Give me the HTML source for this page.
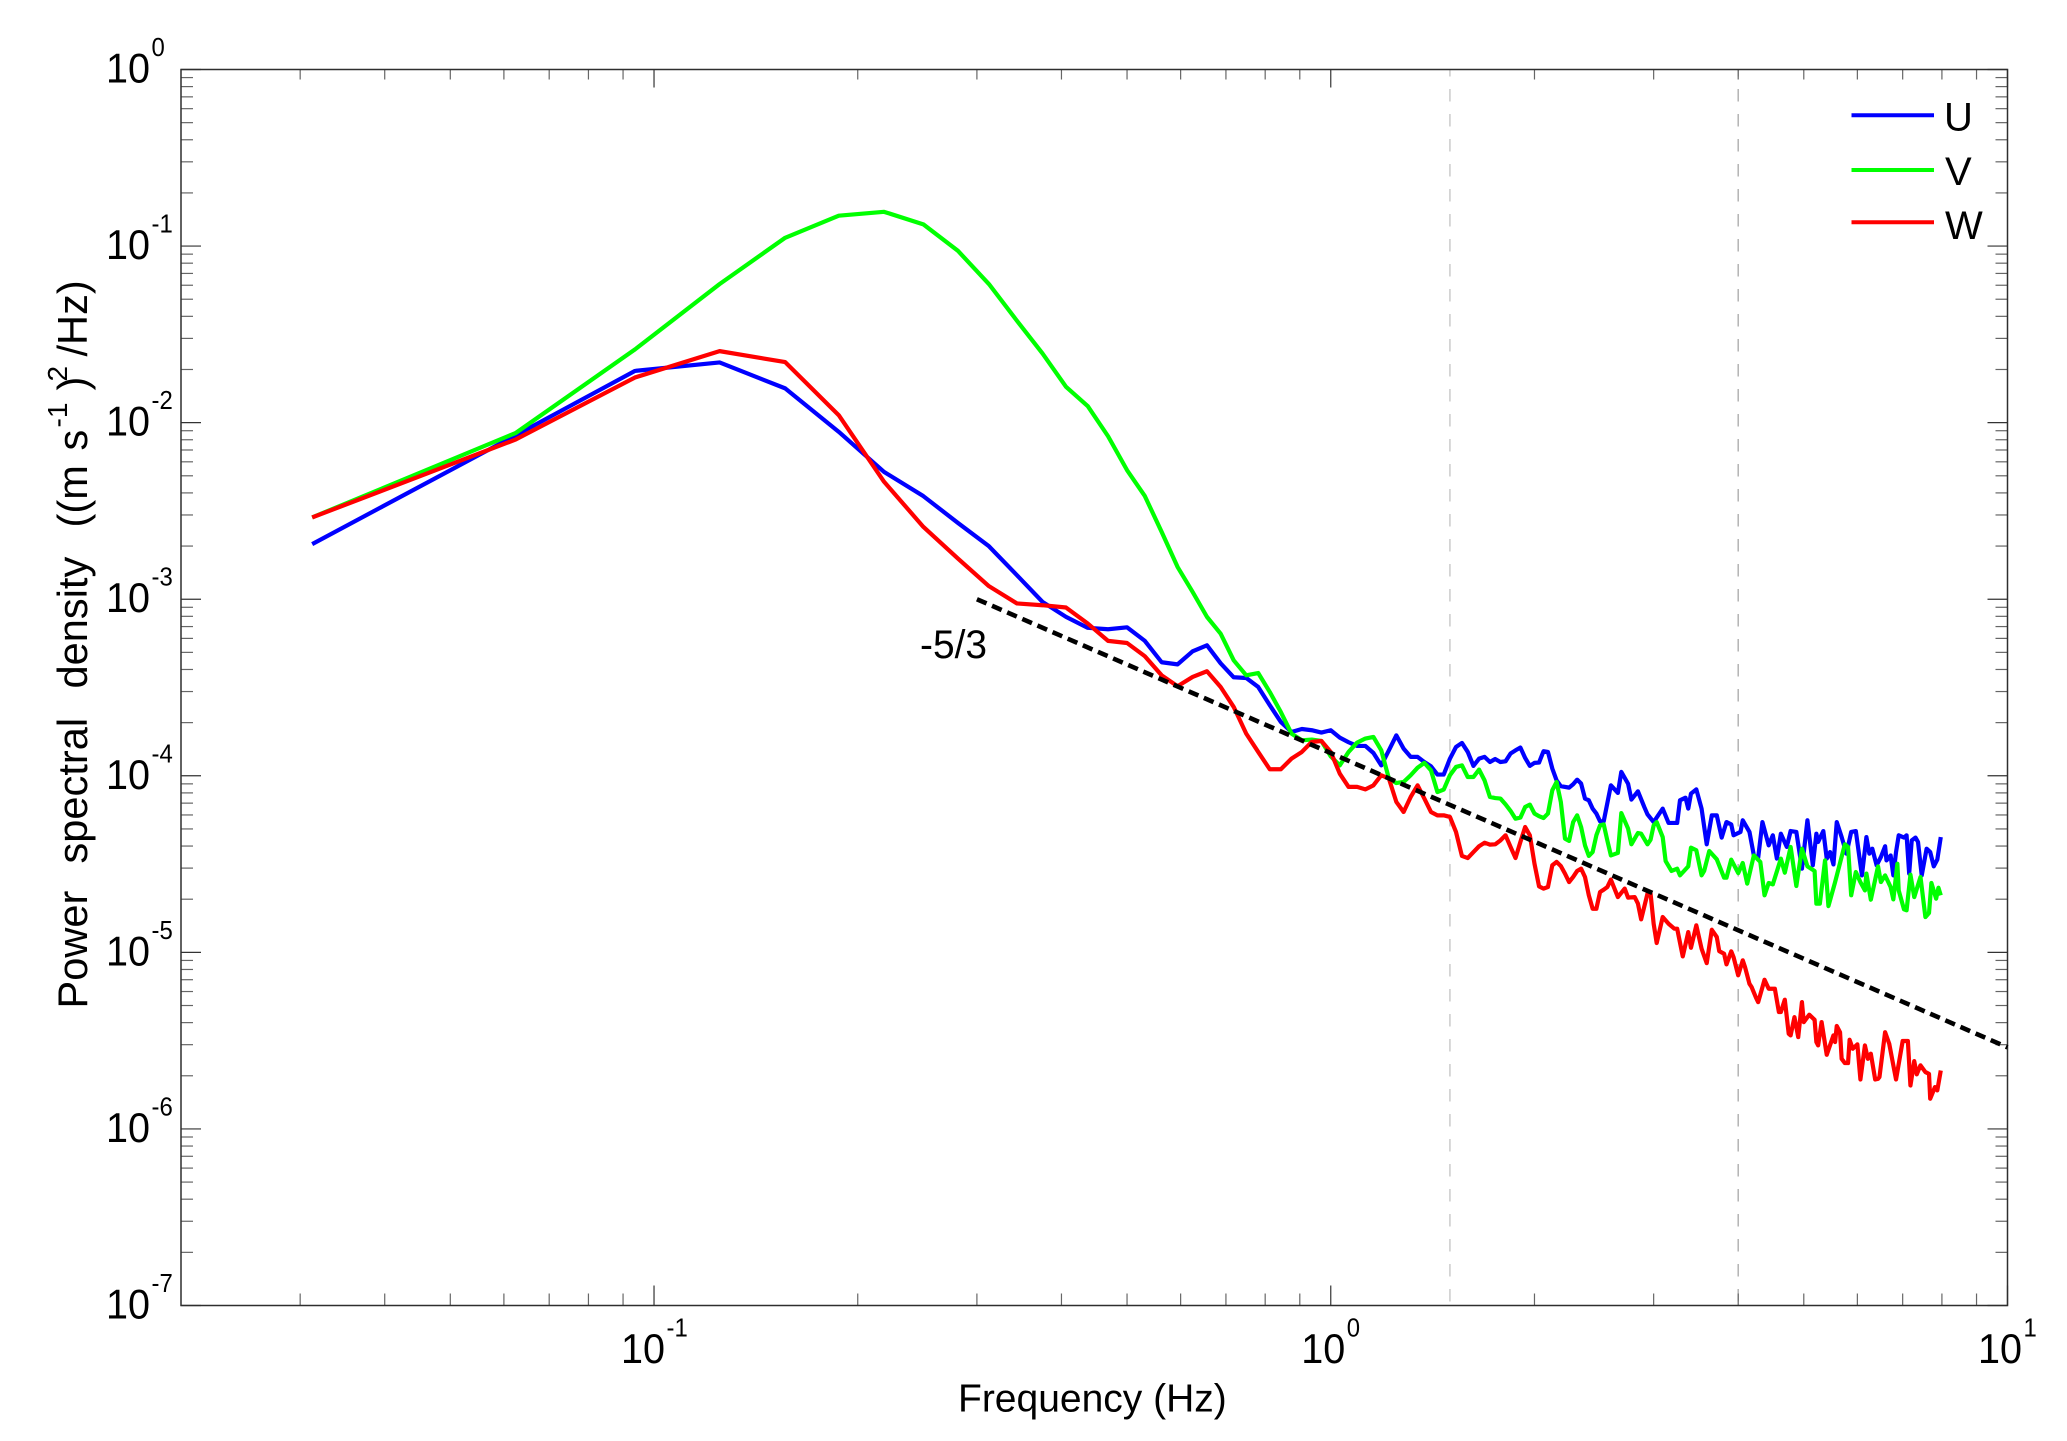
<!DOCTYPE html>
<html lang="en">
<head>
<meta charset="utf-8">
<title>Power spectral density of U, V and W velocity components</title>
<style>
html,body{margin:0;padding:0;background:#fff;}
svg{display:block;}
text{font-family:"Liberation Sans",Arial,sans-serif;fill:#000;}
</style>
</head>
<body>
<svg id="chart" xmlns="http://www.w3.org/2000/svg" width="2067" height="1441" viewBox="0 0 2067 1441">
  <rect x="0" y="0" width="2067" height="1441" fill="#ffffff"/>
  <g id="guides"></g>
  <g id="ticks"></g>
  <rect x="181" y="69.5" width="1826.5" height="1236" fill="none" stroke="#2e2e2e" stroke-width="1.5"/>
  <g id="series"></g>
  <g id="tick-labels"></g>

  <text x="958" y="1411.5" font-size="39">Frequency (Hz)</text>

  <g transform="translate(87,1008.5) rotate(-90)" font-size="41.6">
    <text x="0" y="0">Power</text>
    <text x="145" y="0">spectral</text>
    <text x="320" y="0">density</text>
    <text x="481" y="0">((m</text>
    <text x="558" y="0">s</text>
    <text x="581" y="-20" font-size="28">-1</text>
    <text x="618" y="0">)</text>
    <text x="627" y="-20" font-size="28">2</text>
    <text x="652" y="0">/Hz)</text>
  </g>

  <text x="920" y="658" font-size="39.5" textLength="67" lengthAdjust="spacingAndGlyphs">-5/3</text>

  <g>
    <g>
      <line x1="1851.5" y1="115.3" x2="1934" y2="115.3" stroke="#0000ff" stroke-width="4"/>
      <text x="1944" y="130.5" font-size="40">U</text>
    </g>
    <g>
      <line x1="1851.5" y1="170" x2="1934" y2="170" stroke="#00ff00" stroke-width="4"/>
      <text x="1945" y="185" font-size="40">V</text>
    </g>
    <g>
      <line x1="1851.5" y1="222.3" x2="1934" y2="222.3" stroke="#ff0000" stroke-width="4"/>
      <text x="1945" y="239" font-size="40">W</text>
    </g>
  </g>
</svg>
<script>
// Frequency bins are multiples of binWidthHz; PSD values are log10((m/s)^2/Hz).
const binWidthHz = 1 / 32;

const uBins = [
1,2,3,4,5,6,7,8,9,10,
11,12,13,14,15,16,17,18,19,20,
21,22,23,24,25,26,27,28,29,30,
31,32,33,34,35,36,37,38,39,40,
41,42,43,44,45,46,47,48,49,50,
51,52,53,54,55,56,57,58,59,60,
61,62,63,64,65,66,67,68,69,70,
72,73,74,75,76,77,78,79,80,81,
83,85,86,88,89,91,93,94,96,99,
101,104,105,107,108,109,111,113,115,117,
119,121,123,125,126,129,130,133,135,137,
139,142,144,146,148,151,153,156,159,162,
165,167,168,171,173,175,177,179,182,185,
188,191,195,198,200,202,205,208,211,212,
215,217,219,221,225,227,229,231,234,236,
239,243,246,249,252,255];
const uLogPsd = [
-2.688,-2.071,-1.707,-1.659,-1.806,-2.052,-2.279,-2.416,-2.568,-2.700,
-2.864,-3.015,-3.100,-3.162,-3.170,-3.159,-3.236,-3.357,-3.369,-3.295,
-3.261,-3.363,-3.442,-3.446,-3.497,-3.600,-3.695,-3.752,-3.735,-3.742,
-3.755,-3.742,-3.784,-3.810,-3.831,-3.831,-3.871,-3.941,-3.856,-3.771,
-3.846,-3.893,-3.893,-3.922,-3.946,-3.993,-3.993,-3.903,-3.837,-3.814,
-3.865,-3.944,-3.903,-3.893,-3.922,-3.905,-3.922,-3.918,-3.874,-3.856,
-3.840,-3.899,-3.944,-3.927,-3.925,-3.861,-3.865,-3.959,-4.026,-4.059,
-4.067,-4.048,-4.022,-4.044,-4.129,-4.139,-4.186,-4.214,-4.258,-4.258,
-4.054,-4.097,-3.978,-4.045,-4.135,-4.088,-4.177,-4.218,-4.262,-4.186,
-4.267,-4.267,-4.139,-4.124,-4.186,-4.101,-4.077,-4.186,-4.388,-4.224,
-4.224,-4.350,-4.262,-4.275,-4.337,-4.318,-4.252,-4.318,-4.451,-4.464,
-4.262,-4.394,-4.337,-4.469,-4.328,-4.403,-4.313,-4.318,-4.526,-4.252,
-4.507,-4.328,-4.375,-4.313,-4.469,-4.432,-4.502,-4.262,-4.347,-4.441,
-4.318,-4.313,-4.564,-4.347,-4.441,-4.413,-4.507,-4.460,-4.399,-4.479,
-4.451,-4.564,-4.432,-4.337,-4.350,-4.337,-4.554,-4.366,-4.350,-4.375,
-4.564,-4.413,-4.432,-4.513,-4.475,-4.347];

const vBins = [
1,2,3,4,5,6,7,8,9,10,
11,12,13,14,15,16,17,18,19,20,
21,22,23,24,25,26,27,28,29,30,
31,32,33,34,35,36,37,38,39,40,
41,42,43,44,45,46,47,48,49,50,
51,52,53,54,55,56,57,58,59,60,
61,62,63,64,65,66,67,68,69,70,
71,72,73,74,75,76,77,78,79,80,
81,82,83,85,86,88,89,91,92,94,
95,96,97,99,100,102,104,105,108,109,
111,113,114,116,119,122,123,125,128,130,
132,135,138,140,142,144,148,150,153,156,
159,162,166,167,169,172,174,178,184,186,
188,191,194,197,198,201,206,208,211,215,
217,220,221,225,227,230,233,238,242,245,
247,251,253,255];
const vLogPsd = [
-2.537,-2.058,-1.585,-1.215,-0.953,-0.828,-0.806,-0.877,-1.027,-1.215,
-1.423,-1.608,-1.797,-1.907,-2.077,-2.269,-2.416,-2.619,-2.817,-2.959,
-3.100,-3.195,-3.346,-3.431,-3.418,-3.525,-3.639,-3.761,-3.799,-3.795,
-3.803,-3.890,-3.941,-3.865,-3.812,-3.789,-3.780,-3.856,-4.016,-4.041,
-4.035,-3.997,-3.954,-3.927,-3.969,-4.092,-4.078,-3.997,-3.950,-3.941,
-4.007,-4.007,-3.965,-4.026,-4.120,-4.126,-4.129,-4.162,-4.199,-4.243,
-4.237,-4.177,-4.163,-4.214,-4.229,-4.239,-4.214,-4.082,-4.035,-4.148,
-4.356,-4.369,-4.262,-4.224,-4.290,-4.394,-4.454,-4.432,-4.337,-4.281,
-4.275,-4.366,-4.451,-4.437,-4.211,-4.299,-4.388,-4.324,-4.328,-4.388,
-4.362,-4.281,-4.262,-4.347,-4.483,-4.539,-4.526,-4.564,-4.513,-4.407,
-4.422,-4.564,-4.539,-4.426,-4.473,-4.577,-4.577,-4.475,-4.551,-4.494,
-4.611,-4.451,-4.488,-4.677,-4.607,-4.615,-4.469,-4.549,-4.403,-4.624,
-4.413,-4.513,-4.539,-4.724,-4.724,-4.479,-4.738,-4.602,-4.388,-4.403,
-4.677,-4.545,-4.602,-4.649,-4.554,-4.702,-4.513,-4.602,-4.564,-4.630,
-4.700,-4.498,-4.649,-4.756,-4.762,-4.560,-4.687,-4.573,-4.800,-4.777,
-4.607,-4.696,-4.634,-4.677];

const wBins = [
1,2,3,4,5,6,7,8,9,10,
11,12,13,14,15,16,17,18,19,20,
21,22,23,24,25,26,27,28,29,30,
31,32,33,34,35,36,37,38,39,40,
41,42,43,44,45,46,47,48,49,50,
51,52,53,54,55,56,57,58,59,60,
61,62,63,64,65,66,67,68,69,70,
71,72,73,74,75,76,77,78,79,80,
81,82,83,85,87,88,90,91,92,94,
95,96,97,99,101,103,104,106,108,109,
111,113,115,117,119,120,122,123,125,126,
128,130,131,133,134,136,137,140,142,145,
147,148,150,152,153,155,157,159,160,163,
166,167,168,170,173,177,178,179,181,182,
184,186,187,189,192,194,197,199,201,204,
206,207,211,214,217,219,224,228,230,233,
235,238,242,245,246,250,252,255];
const wLogPsd = [
-2.537,-2.095,-1.744,-1.595,-1.657,-1.958,-2.335,-2.590,-2.770,-2.926,
-3.024,-3.034,-3.047,-3.138,-3.236,-3.248,-3.323,-3.431,-3.493,-3.440,
-3.408,-3.497,-3.610,-3.761,-3.865,-3.963,-3.963,-3.903,-3.865,-3.808,
-3.803,-3.865,-3.988,-4.063,-4.063,-4.077,-4.054,-3.997,-4.016,-4.148,
-4.205,-4.120,-4.054,-4.129,-4.205,-4.224,-4.224,-4.233,-4.318,-4.454,
-4.466,-4.432,-4.399,-4.379,-4.390,-4.388,-4.366,-4.337,-4.403,-4.466,
-4.375,-4.290,-4.337,-4.498,-4.626,-4.639,-4.630,-4.507,-4.488,-4.511,
-4.554,-4.602,-4.573,-4.539,-4.526,-4.573,-4.677,-4.753,-4.753,-4.658,
-4.645,-4.630,-4.588,-4.687,-4.639,-4.690,-4.687,-4.724,-4.813,-4.668,
-4.668,-4.838,-4.947,-4.800,-4.838,-4.866,-4.866,-5.023,-4.885,-4.974,
-4.847,-4.979,-5.061,-4.872,-4.913,-4.993,-5.008,-5.068,-4.994,-5.027,
-5.130,-5.045,-5.083,-5.178,-5.197,-5.257,-5.282,-5.155,-5.206,-5.206,
-5.338,-5.338,-5.268,-5.461,-5.470,-5.367,-5.480,-5.282,-5.395,-5.353,
-5.382,-5.508,-5.527,-5.395,-5.580,-5.470,-5.508,-5.417,-5.452,-5.603,
-5.627,-5.627,-5.495,-5.546,-5.521,-5.720,-5.527,-5.603,-5.574,-5.720,
-5.716,-5.706,-5.452,-5.518,-5.640,-5.720,-5.502,-5.502,-5.754,-5.616,
-5.691,-5.640,-5.678,-5.688,-5.829,-5.763,-5.782,-5.669];

const slopeRefFreq = [0.3, 10];
const slopeRefLogPsd = [-3, -5.538];
const guideFreqs = [1.5, 4];
const xTickExponents = [-1, 0, 1];
const yTickExponents = [0, -1, -2, -3, -4, -5, -6, -7];
const minorMultipliers = [2, 3, 4, 5, 6, 7, 8, 9];

const NS = 'http://www.w3.org/2000/svg';
const plot = {left: 181, right: 2007.5, top: 69.5, bottom: 1305.5};
const xDomain = [Math.log10(0.02), Math.log10(10)];
const yDomain = [-7, 0];

function xScale(freq) {
  return plot.left + (Math.log10(freq) - xDomain[0]) / (xDomain[1] - xDomain[0]) * (plot.right - plot.left);
}
function yScale(logPsd) {
  return plot.bottom - (logPsd - yDomain[0]) / (yDomain[1] - yDomain[0]) * (plot.bottom - plot.top);
}
function makeLine(x1, y1, x2, y2, stroke, width) {
  const el = document.createElementNS(NS, 'line');
  el.setAttribute('x1', x1);
  el.setAttribute('y1', y1);
  el.setAttribute('x2', x2);
  el.setAttribute('y2', y2);
  el.setAttribute('stroke', stroke);
  el.setAttribute('stroke-width', width);
  return el;
}
function makeExpLabel(parent, startX, baseY, exponent, tag) {
  const base = document.createElementNS(NS, 'text');
  base.setAttribute('x', startX);
  base.setAttribute('y', baseY);
  base.setAttribute('font-size', 42);
  base.setAttribute('textLength', 44);
  base.setAttribute('lengthAdjust', 'spacingAndGlyphs');
  base.textContent = '10';
  
  
  parent.appendChild(base);
  const sup = document.createElementNS(NS, 'text');
  const supText = String(exponent);
  sup.setAttribute('x', startX + 45.5);
  sup.setAttribute('y', baseY - 26.5);
  sup.setAttribute('font-size', 26);
  sup.setAttribute('textLength', (supText.length > 1 ? 0.889 : 0.556) * 26 * 0.92);
  sup.setAttribute('lengthAdjust', 'spacingAndGlyphs');
  sup.textContent = supText;
  
  
  parent.appendChild(sup);
}

const guideLayer = document.getElementById('guides');
guideFreqs.forEach(function (f, i) {
  const gx = xScale(f);
  const guide = makeLine(gx, plot.top, gx, plot.bottom, i === 0 ? '#c8c8c8' : '#aeaeae', 1.4);
  guide.setAttribute('stroke-dasharray', '12.5 12.5');
  guide.setAttribute('stroke-dashoffset', '5.5');
  
  
  guideLayer.appendChild(guide);
});

const tickLayer = document.getElementById('ticks');
const labelLayer = document.getElementById('tick-labels');

xTickExponents.forEach(function (e) {
  const tx = xScale(Math.pow(10, e));
  const bottomTick = makeLine(tx, plot.bottom, tx, plot.bottom - 20, '#333', 1.2);
  
  
  tickLayer.appendChild(bottomTick);
  const topTick = makeLine(tx, plot.top, tx, plot.top + 18, '#333', 1.2);
  
  
  tickLayer.appendChild(topTick);
  makeExpLabel(labelLayer, tx - (e < 0 ? 33 : 29.5), 1363, e, 'x-tick-label');
});
[-2, -1, 0].forEach(function (e) {
  minorMultipliers.forEach(function (m) {
    const f = m * Math.pow(10, e);
    if (f <= 0.02 || f >= 10) { return; }
    const tx = xScale(f);
    const bottomMinor = makeLine(tx, plot.bottom, tx, plot.bottom - 12, '#666', 1.2);
    
    
    tickLayer.appendChild(bottomMinor);
    const topMinor = makeLine(tx, plot.top, tx, plot.top + 10, '#666', 1.2);
    
    
    tickLayer.appendChild(topMinor);
  });
});

yTickExponents.forEach(function (e) {
  const ty = yScale(e);
  const leftTick = makeLine(plot.left, ty, plot.left + 20, ty, '#333', 1.2);
  
  
  tickLayer.appendChild(leftTick);
  const rightTick = makeLine(plot.right, ty, plot.right - 20, ty, '#333', 1.2);
  
  
  tickLayer.appendChild(rightTick);
  makeExpLabel(labelLayer, 106, ty + 13, e, 'y-tick-label');
  if (e > -7) {
    minorMultipliers.forEach(function (m) {
      const my = yScale(e - 1 + Math.log10(m));
      const leftMinor = makeLine(plot.left, my, plot.left + 12, my, '#666', 1.2);
      
      
      tickLayer.appendChild(leftMinor);
      const rightMinor = makeLine(plot.right, my, plot.right - 12, my, '#666', 1.2);
      
      
      tickLayer.appendChild(rightMinor);
    });
  }
});

function drawSeries(bins, values, color, name) {
  const pts = bins.map(function (b, i) {
    return xScale(b * binWidthHz).toFixed(2) + ',' + yScale(values[i]).toFixed(2);
  }).join(' ');
  const poly = document.createElementNS(NS, 'polyline');
  poly.setAttribute('points', pts);
  poly.setAttribute('fill', 'none');
  poly.setAttribute('stroke', color);
  poly.setAttribute('stroke-width', 4.2);
  poly.setAttribute('stroke-linejoin', 'round');
  
  
  document.getElementById('series').appendChild(poly);
}
drawSeries(uBins, uLogPsd, '#0000ff', 'series-u');
drawSeries(vBins, vLogPsd, '#00ff00', 'series-v');
drawSeries(wBins, wLogPsd, '#ff0000', 'series-w');

const slopeLine = makeLine(xScale(slopeRefFreq[0]), yScale(slopeRefLogPsd[0]), xScale(slopeRefFreq[1]), yScale(slopeRefLogPsd[1]), '#000000', 4.6);
slopeLine.setAttribute('stroke-dasharray', '10.5 6');


document.getElementById('series').appendChild(slopeLine);
</script>
</body>
</html>
